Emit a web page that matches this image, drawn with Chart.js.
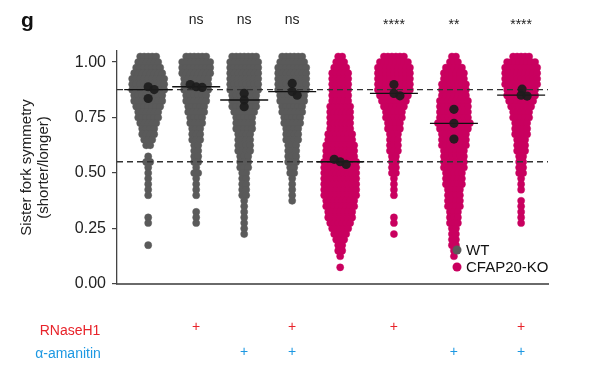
<!DOCTYPE html>
<html>
<head>
<meta charset="utf-8">
<script src="https://cdn.jsdelivr.net/npm/chart.js@4.4.1/dist/chart.umd.min.js"></script>
<style>
  html, body { margin: 0; padding: 0; background: #fff; }
  #wrap { width: 589px; height: 371px; }
</style>
</head>
<body>
<div id="wrap"><canvas id="chart"></canvas></div>
<script>
// groups, left to right
const genotype = ['WT', 'WT', 'WT', 'WT', 'CFAP20-KO', 'CFAP20-KO', 'CFAP20-KO', 'CFAP20-KO'];
const rnaseH1  = [0, 1, 0, 1, 0, 1, 0, 1];
const amanitin = [0, 0, 1, 1, 0, 0, 1, 1];
const sigLabels = ['', 'ns', 'ns', 'ns', '', '****', '**', '****'];
const yTicks = [0, 0.25, 0.5, 0.75, 1.0];

const binValues = [1.025, 1.000, 0.975, 0.950, 0.925, 0.900, 0.875, 0.850, 0.825, 0.800,
                   0.775, 0.750, 0.725, 0.700, 0.675, 0.650, 0.625, 0.600, 0.575, 0.550,
                   0.525, 0.500, 0.475, 0.450, 0.425, 0.400, 0.375, 0.350, 0.325, 0.300,
                   0.275, 0.250, 0.225, 0.200, 0.175, 0.150, 0.125, 0.100, 0.075];
const wtCounts          = [5,6,7,8,9,9,9,8,8,7, 6,6,5,4,4,3,2,0,1,2, 1,1,1,1,1,1,0,0,0,1, 1,0,0,0,1,0,0,0,0];
const wtRnaseCounts     = [6,8,8,8,7,7,7,6,6,5, 5,4,4,3,3,3,2,2,2,2, 1,2,1,1,1,1,0,0,1,1, 1,0,0,0,0,0,0,0,0];
const wtAmaCounts       = [7,8,8,8,8,8,8,7,7,7, 6,5,5,5,4,4,4,4,3,3, 3,2,2,2,2,2,1,1,1,1, 1,1,1,0,0,0,0,0,0];
const wtBothCounts      = [6,7,8,8,8,8,8,7,7,6, 6,5,5,4,4,4,3,3,3,3, 2,2,1,1,1,1,1,0,0,0, 0,0,0,0,0,0,0,0,0];
const koCounts          = [2,3,4,5,5,5,5,5,5,6, 6,6,6,6,7,7,8,8,8,9, 9,9,9,9,9,9,8,8,7,7, 6,5,4,3,2,2,1,0,1];
const koRnaseCounts     = [6,8,9,9,9,9,9,8,7,6, 5,5,4,4,3,3,3,3,2,2, 2,2,1,1,1,1,0,0,0,1, 1,0,1,0,0,0,0,0,0];
const koAmaCounts       = [2,3,5,6,6,7,7,7,8,8, 8,8,9,8,7,7,7,6,6,6, 6,5,5,5,4,4,4,4,3,3, 3,2,2,2,2,1,1,0,0];
const koBothCounts      = [5,8,9,9,9,9,8,8,7,6, 5,5,4,4,4,3,3,3,2,2, 2,2,1,1,1,0,1,1,1,1, 1,0,0,0,0,0,0,0,0];
const groupCounts = [wtCounts, wtRnaseCounts, wtAmaCounts, wtBothCounts,
                     koCounts, koRnaseCounts, koAmaCounts, koBothCounts];

// median of each biological replicate
const replicateMedians = [
  [0.889, 0.876, 0.836],
  [0.889, 0.886, 0.899],
  [0.859, 0.829, 0.799],
  [0.904, 0.867, 0.851],
  [0.551, 0.539, 0.562],
  [0.899, 0.859, 0.848],
  [0.787, 0.724, 0.653],
  [0.851, 0.847, 0.878]
];

// layout
const groupPos = [1, 2, 3, 4, 5, 6.12, 7.37, 8.77];
const X_MIN = 0.35, X_MAX = 9.33;
const DOT_STEP = 4;       // px between dots in a swarm row
const MED_HALF = 0.5;     // half width of median bar (x units)
const GREY = '#5a5a5a', MAGENTA = '#c9005f';
const FONT = 'Arial, "Liberation Sans", Helvetica, sans-serif';

const median = arr => { const s = [...arr].sort((a, b) => a - b); return s[Math.floor(s.length / 2)]; };
const groupMedians = replicateMedians.map(median);
const colorOf = g => genotype[g] === 'WT' ? GREY : MAGENTA;

const datasets = [];
// swarms (filled after the scales exist)
genotype.forEach((gt, g) => datasets.push({
  label: gt, data: [], order: 10,
  pointRadius: 3.6, pointHoverRadius: 3.6,
  pointBackgroundColor: colorOf(g), pointBorderColor: colorOf(g), pointBorderWidth: 0.4
}));
// dashed reference lines at the untreated WT and KO medians
[0, 4].forEach(g => datasets.push({
  type: 'line', data: [{x: X_MIN, y: groupMedians[g]}, {x: X_MAX, y: groupMedians[g]}],
  showLine: true, borderColor: '#333', borderWidth: 1.3, borderDash: [6, 4],
  pointRadius: 0, order: 5
}));
// median bars
groupMedians.forEach((m, g) => datasets.push({
  type: 'line', data: [{x: groupPos[g] - MED_HALF, y: m}, {x: groupPos[g] + MED_HALF, y: m}],
  showLine: true, borderColor: '#111', borderWidth: 1.4, pointRadius: 0, order: 4
}));
// replicate medians
replicateMedians.forEach((reps, g) => datasets.push({
  label: 'rep', data: [], order: 1,
  pointRadius: 4.6, pointHoverRadius: 4.6,
  pointBackgroundColor: 'rgba(28,28,28,0.92)', pointBorderColor: 'rgba(28,28,28,0.92)', pointBorderWidth: 0
}));

const annotations = {
  id: 'annotations',
  afterDraw(chart) {
    const ctx = chart.ctx, xs = chart.scales.x;
    ctx.save();
    ctx.fillStyle = '#111';
    ctx.font = 'bold 21px ' + FONT;
    ctx.textAlign = 'left'; ctx.textBaseline = 'alphabetic';
    ctx.fillText('g', 21, 27);

    ctx.font = '14px ' + FONT;
    ctx.textAlign = 'center';
    ctx.fillStyle = '#222';
    sigLabels.forEach((s, g) => {
      if (!s) return;
      const y = s.startsWith('*') ? 29 : 24;
      ctx.fillText(s, xs.getPixelForValue(groupPos[g]), y);
    });

    // treatment rows
    ctx.font = '14px ' + FONT;
    ctx.fillStyle = '#e8232a';
    ctx.fillText('RNaseH1', 70, 335);
    rnaseH1.forEach((v, g) => { if (v) ctx.fillText('+', xs.getPixelForValue(groupPos[g]), 331); });
    ctx.fillStyle = '#1d98e2';
    ctx.fillText('\u03b1-amanitin', 68, 358);
    amanitin.forEach((v, g) => { if (v) ctx.fillText('+', xs.getPixelForValue(groupPos[g]), 356); });

    // legend
    ctx.textAlign = 'left'; ctx.textBaseline = 'middle';
    ctx.font = '15px ' + FONT;
    [['WT', GREY], ['CFAP20-KO', MAGENTA]].forEach(([t, c], i) => {
      const y = 250 + i * 17;
      ctx.fillStyle = c;
      ctx.beginPath(); ctx.arc(457, y, 4.5, 0, Math.PI * 2); ctx.fill();
      ctx.fillStyle = '#111';
      ctx.fillText(t, 466, y + 1);
    });
    ctx.restore();
  }
};

const chart = new Chart(document.getElementById('chart'), {
  type: 'scatter',
  data: { datasets },
  options: {
    responsive: true, maintainAspectRatio: false, animation: false,
    layout: { padding: { top: 51, right: 41, left: 0, bottom: 0 } },
    plugins: { legend: { display: false }, tooltip: { enabled: false } },
    scales: {
      x: {
        type: 'linear', min: X_MIN, max: X_MAX,
        grid: { display: false },
        ticks: { display: false },
        border: { display: true, color: '#6a6a6a', width: 2 },
        afterFit: s => { s.height = 87; }
      },
      y: {
        min: 0, max: 1.05,
        afterBuildTicks: s => { s.ticks = yTicks.map(v => ({ value: v })); },
        ticks: { callback: v => v.toFixed(2), color: '#222', padding: 6,
                 font: { family: FONT, size: 16 } },
        grid: { drawOnChartArea: false, drawTicks: true, tickLength: 5, color: '#444', lineWidth: 1.2 },
        border: { display: true, color: '#444', width: 1.3 },
        title: { display: true, text: ['Sister fork symmetry', '(shorter/longer)'],
                 color: '#222', font: { family: FONT, size: 15, lineHeight: 1.1 },
                 padding: { top: 19, bottom: 0 } },
        afterFit: s => { s.width = 117; }
      }
    }
  },
  plugins: [annotations]
});

// beeswarm layout in pixel space, converted back through the scales
function fillSwarms() {
  const xs = chart.scales.x, ys = chart.scales.y;
  groupCounts.forEach((counts, g) => {
    const cx = xs.getPixelForValue(groupPos[g]);
    const pts = [];
    counts.forEach((n, i) => {
      for (let k = 0; k < n; k++) {
        pts.push({ x: xs.getValueForPixel(cx + (k - (n - 1) / 2) * DOT_STEP), y: binValues[i] });
      }
    });
    chart.data.datasets[g].data = pts;
  });
  const repStart = 8 + 2 + 8;
  replicateMedians.forEach((reps, g) => {
    const cx = xs.getPixelForValue(groupPos[g]);
    const placed = [];
    const pts = reps.map(v => {
      const py = ys.getPixelForValue(v);
      let off = 0;
      for (let t = 0; t < 40; t++) {
        const cand = (t % 2 ? 1 : -1) * Math.ceil(t / 2);
        if (placed.every(p => Math.hypot(p.x - (cx + cand), p.y - py) >= 6)) { off = cand; break; }
      }
      placed.push({ x: cx + off, y: py });
      return { x: xs.getValueForPixel(cx + off), y: v };
    });
    chart.data.datasets[repStart + g].data = pts;
  });
  chart.update('none');
}
fillSwarms();
</script>
</body>
</html>
